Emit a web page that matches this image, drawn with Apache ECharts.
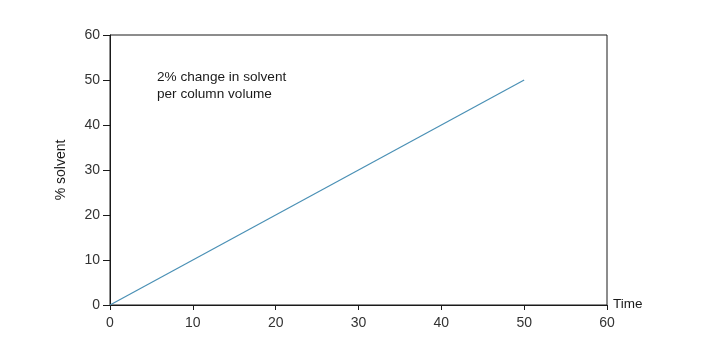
<!DOCTYPE html>
<html><head><meta charset="utf-8">
<script src="https://cdn.jsdelivr.net/npm/echarts@6/dist/echarts.min.js"></script>
<style>html,body{margin:0;padding:0;background:#fff}#c{width:720px;height:362px}</style>
</head><body><div id="c"></div>
<script>
const timeValues = [0, 50];
const solventValues = [0, 50];
const annotation = ['2% change in solvent', 'per column volume'];
const xName = 'Time';
const yName = '% solvent';

const chart = echarts.init(document.getElementById('c'));
const font = 'Liberation Sans, Arial, sans-serif';
chart.setOption({
  animation: false,
  grid: { left: 110, right: 113, top: 35, bottom: 57, show: true, borderColor: '#1a1a1a', borderWidth: 1 },
  xAxis: {
    type: 'value', min: 0, max: 60, interval: 10,
    name: xName, nameLocation: 'end', nameGap: 6,
    nameTextStyle: { color: '#1a1a1a', fontFamily: font, fontSize: 13.5, verticalAlign: 'bottom', padding: [0, 0, -6, 0] },
    axisLine: { lineStyle: { color: '#1a1a1a', width: 1 } },
    axisTick: { show: true, length: 5, lineStyle: { color: '#1a1a1a' } },
    axisLabel: { color: '#333', fontFamily: font, fontSize: 14, margin: 11 },
    splitLine: { show: false }
  },
  yAxis: {
    type: 'value', min: 0, max: 60, interval: 10,
    name: yName, nameLocation: 'middle', nameGap: 42, nameRotate: 90,
    nameTextStyle: { color: '#1a1a1a', fontFamily: font, fontSize: 14 },
    axisLine: { show: true, lineStyle: { color: '#1a1a1a', width: 1 } },
    axisTick: { show: true, length: 7, lineStyle: { color: '#1a1a1a' } },
    axisLabel: { color: '#333', fontFamily: font, fontSize: 14, margin: 10 },
    splitLine: { show: false }
  },
  graphic: [{
    type: 'text', left: 157, top: 69,
    style: { text: annotation.join('\n'), fill: '#1a1a1a', font: '13.6px ' + font, lineHeight: 17 }
  }],
  series: [{
    type: 'line',
    data: timeValues.map((t, i) => [t, solventValues[i]]),
    showSymbol: false,
    lineStyle: { color: '#4a90b5', width: 1.2 }
  }]
});
</script></body></html>
